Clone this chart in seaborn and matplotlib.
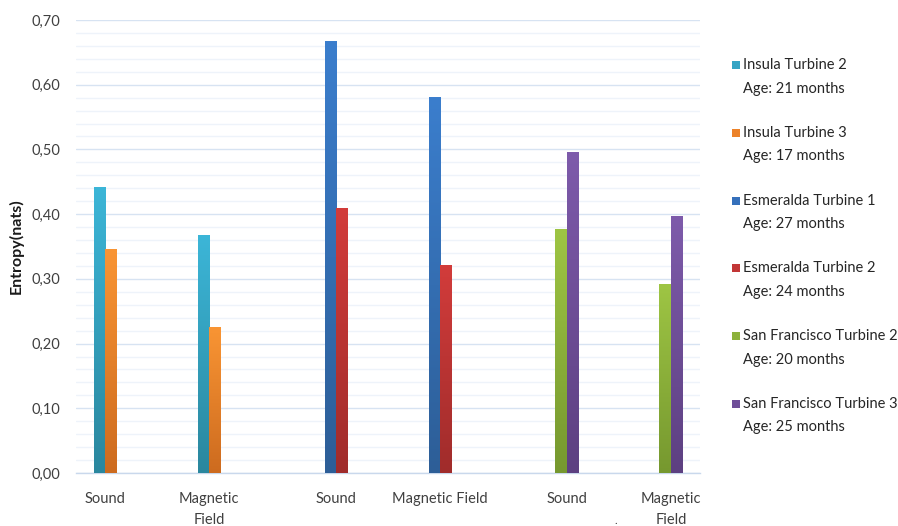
import numpy as np
import pandas as pd
import matplotlib
matplotlib.use("Agg")
import matplotlib.pyplot as plt
from matplotlib.colors import LinearSegmentedColormap
from matplotlib.patches import Rectangle
from matplotlib.ticker import MultipleLocator, FuncFormatter
import seaborn as sns

# ---- data -------------------------------------------------------------
x_labels = ["Sound", "Magnetic\nField", "Sound", "Magnetic Field", "Sound", "Magnetic\nField"]
series = ["Insula Turbine 2", "Insula Turbine 3",
          "Esmeralda Turbine 1", "Esmeralda Turbine 2",
          "San Francisco Turbine 2", "San Francisco Turbine 3"]
ages = [21, 17, 27, 24, 20, 25]
sound_entropy = [0.442, 0.346, 0.667, 0.410, 0.377, 0.496]
magnetic_entropy = [0.368, 0.226, 0.581, 0.322, 0.292, 0.397]
site_index = [0, 0, 1, 1, 2, 2]   # Insula, Esmeralda, San Francisco

# ---- styling ----------------------------------------------------------
base_colors = ["#35a4c4", "#ec8229", "#3570bb", "#c23636", "#8db23c", "#6f4e99"]
top_colors = ["#3cb6d8", "#f99534", "#3b7ecd", "#d23c3b", "#9ec544", "#7e5bab"]
bottom_colors = ["#2a879e", "#cd6b1f", "#2d5e97", "#a02c2b", "#76982f", "#5d4081"]

sns.set_style("white")
plt.rcParams["font.family"] = ["Lato", "DejaVu Sans"]

slot_order = [str(i) for i in range(len(x_labels))]
rows = []
for i, name in enumerate(series):
    rows.append({"slot": slot_order[2 * site_index[i]], "series": name, "entropy": sound_entropy[i]})
    rows.append({"slot": slot_order[2 * site_index[i] + 1], "series": name, "entropy": magnetic_entropy[i]})
df = pd.DataFrame(rows)

fig = plt.figure(figsize=(8.98, 5.26), dpi=100)
ax = fig.add_axes([76 / 898, 1 - 473 / 526, (700 - 76) / 898, (473 - 20) / 526])

sns.barplot(data=df, x="slot", y="entropy", hue="series", hue_order=series,
            order=slot_order, palette=dict(zip(series, base_colors)),
            width=0.66, dodge=True, saturation=1, linewidth=0,
            legend=False, ax=ax, zorder=3)

# vertical shading on every bar, clipped to the bar itself
color_of = {}
for name, c in zip(series, base_colors):
    color_of[matplotlib.colors.to_hex(c)] = series.index(name)
grad = np.linspace(0, 1, 256).reshape(-1, 1)
bar_centers = {}
for p in list(ax.patches):
    h = p.get_height()
    if not np.isfinite(h) or h <= 0:
        continue
    idx = color_of.get(matplotlib.colors.to_hex(p.get_facecolor()))
    if idx is None:
        continue
    cmap = LinearSegmentedColormap.from_list("shade", [top_colors[idx], bottom_colors[idx]])
    x0, w, y0 = p.get_x(), p.get_width(), p.get_y()
    im = ax.imshow(grad, cmap=cmap, aspect="auto", extent=(x0, x0 + w, y0, y0 + h),
                   origin="upper", zorder=4, interpolation="bilinear")
    im.set_clip_path(p)
    cx = x0 + w / 2
    bar_centers.setdefault(int(round(cx)), []).append(cx)

ax.set_xlim(-0.5, len(x_labels) - 0.5)
ax.set_ylim(0, 0.70)

# category labels sit under each pair of bars
tick_pos = [np.mean(bar_centers[i]) for i in range(len(x_labels))]
ax.set_xticks(tick_pos)
ax.set_xticklabels(x_labels, fontsize=10.5, color="#404040", linespacing=1.6)
ax.tick_params(axis="x", length=0, pad=14)

ax.yaxis.set_major_locator(MultipleLocator(0.10))
ax.yaxis.set_minor_locator(MultipleLocator(0.02))
ax.yaxis.set_major_formatter(FuncFormatter(lambda v, _: f"{v:.2f}".replace(".", ",")))
ax.tick_params(axis="y", which="both", length=0, pad=11, labelsize=10.5, labelcolor="#404040")
ax.grid(False)
ax.grid(axis="y", which="major", color="#d7e3f2", linewidth=1.0, zorder=0)
ax.grid(axis="y", which="minor", color="#eef3fa", linewidth=1.0, zorder=0)
ax.set_axisbelow(True)

for side in ["left", "right", "top"]:
    ax.spines[side].set_visible(False)
ax.spines["bottom"].set_color("#c9d8ec")
ax.spines["bottom"].set_linewidth(1.0)

ax.set_xlabel("")
ax.set_ylabel("Entropy(nats)", fontsize=11.5, fontweight="bold", color="#1a1a1a", labelpad=6)

# legend: colour square beside the turbine name, age on the line below
legend_x = 732 / 898
text_x = 743 / 898
first_y = 65
step = 67.8
for i, name in enumerate(series):
    yc = first_y + i * step
    fig.patches.append(Rectangle((legend_x, 1 - (yc + 4) / 526), 8 / 898, 8 / 526,
                                 transform=fig.transFigure, facecolor=base_colors[i],
                                 edgecolor="none"))
    fig.text(text_x, 1 - yc / 526, name, fontsize=10.5, color="#262626", va="center", ha="left")
    fig.text(text_x, 1 - (yc + 23.5) / 526, f"Age: {ages[i]} months", fontsize=10.5,
             color="#262626", va="center", ha="left")

fig.text(616 / 898, 1 - 521 / 526, ".", fontsize=8, color="#404040", ha="center", va="center")

fig.savefig("out.png", dpi=100, facecolor="white")
